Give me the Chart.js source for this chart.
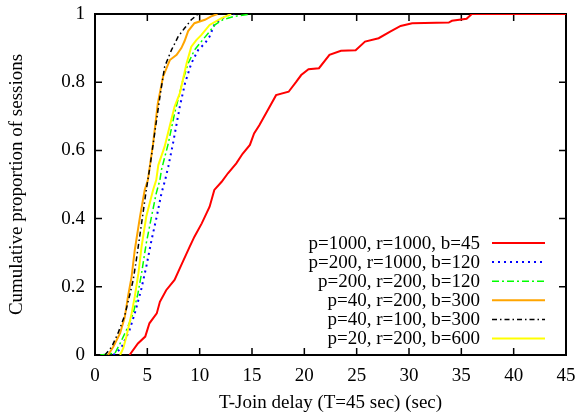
<!DOCTYPE html>
<html lang="en">
<head>
    <meta charset="UTF-8">
    <title>T-Join delay CDF</title>
    <script src="https://cdn.jsdelivr.net/npm/chart.js"></script>
    <style>
        body {
            margin: 0;
            background-color: #ffffff;
        }
        canvas {
            display: block;
        }
    </style>
</head>
<body>
    <canvas id="cdfChart" width="579" height="414"></canvas>

    <script>
        // Series: x = T-Join delay (sec), y = cumulative proportion
        const labels = [
            'p=1000, r=1000, b=45',
            'p=200, r=1000, b=120',
            'p=200, r=200, b=120',
            'p=40, r=200, b=300',
            'p=40, r=100, b=300',
            'p=20, r=200, b=600'
        ];

        const redX = [3.3, 4.1, 4.8, 5.2, 5.9, 6.2, 6.8, 7.6, 8.1, 9.05, 9.5, 10.2, 10.95, 11.4, 12.1, 12.7, 13.5, 14.1, 14.8, 15.2, 15.7, 16.5, 17.3, 18.5, 19.2, 19.7, 20.4, 21.4, 22.4, 23.5, 24.9, 25.8, 27.1, 28.2, 29.2, 30.3, 33.8, 34.1, 35.5, 36, 45];
        const redY = [0, 0.034, 0.054, 0.093, 0.122, 0.156, 0.19, 0.22, 0.254, 0.318, 0.347, 0.386, 0.435, 0.484, 0.508, 0.533, 0.562, 0.59, 0.616, 0.65, 0.674, 0.718, 0.762, 0.772, 0.80, 0.821, 0.838, 0.841, 0.88, 0.892, 0.894, 0.919, 0.929, 0.948, 0.965, 0.973, 0.975, 0.98, 0.986, 1, 1];

        const blueX = [1.75, 2.5, 3.3, 3.8, 4.4, 4.9, 5.4, 5.9, 6.35, 6.7, 7.0, 7.45, 8.1, 8.6, 9.2, 9.85, 10.5, 10.95, 11.4, 11.9, 12.7, 13.3];
        const blueY = [0, 0.02, 0.073, 0.122, 0.19, 0.259, 0.337, 0.406, 0.474, 0.513, 0.552, 0.62, 0.728, 0.797, 0.855, 0.894, 0.914, 0.934, 0.968, 0.983, 0.996, 1];

        const greenX = [0.5, 1.9, 2.4, 3.0, 3.65, 4.1, 4.45, 4.9, 5.4, 5.85, 6.2, 6.35, 7.0, 7.6, 8.4, 8.9, 9.5, 10.15, 10.8, 11.45, 12.2, 13.3, 14.9];
        const greenY = [0, 0.005, 0.034, 0.073, 0.122, 0.18, 0.24, 0.328, 0.406, 0.474, 0.513, 0.543, 0.62, 0.708, 0.806, 0.855, 0.894, 0.919, 0.943, 0.968, 0.983, 0.993, 1];

        const orangeX = [1.25, 1.75, 2.4, 2.85, 3.15, 3.5, 3.8, 4.3, 4.75, 5.05, 5.55, 6.0, 6.5, 7.15, 7.8, 8.25, 8.55, 8.9, 9.5, 10.5, 11.1, 11.7];
        const orangeY = [0, 0.024, 0.064, 0.112, 0.171, 0.23, 0.308, 0.406, 0.484, 0.513, 0.62, 0.738, 0.816, 0.865, 0.88, 0.9, 0.92, 0.95, 0.973, 0.983, 0.993, 1];

        const blackX = [0.95, 1.6, 2.2, 2.85, 3.35, 3.65, 3.95, 4.45, 4.9, 5.25, 5.7, 6.2, 6.65, 7.3, 7.95, 8.55, 9.2, 9.85];
        const blackY = [0, 0.024, 0.064, 0.117, 0.18, 0.22, 0.279, 0.386, 0.484, 0.552, 0.65, 0.757, 0.845, 0.894, 0.934, 0.958, 0.983, 1];

        const yellowX = [2.4, 2.7, 3.0, 3.5, 3.8, 4.15, 4.45, 4.9, 5.55, 5.85, 6.05, 6.65, 7.6, 8.1, 8.75, 9.2, 9.7, 10.15, 10.95, 12.05, 13.0];
        const yellowY = [0, 0.02, 0.054, 0.122, 0.171, 0.24, 0.318, 0.406, 0.484, 0.513, 0.557, 0.611, 0.728, 0.767, 0.855, 0.904, 0.924, 0.938, 0.968, 0.987, 1];

        const xTicks = [0, 5, 10, 15, 20, 25, 30, 35, 40, 45];
        const yTicks = [0, 0.2, 0.4, 0.6, 0.8, 1];

        const FONT = "'Liberation Serif', 'DejaVu Serif', serif";

        function toPoints(xs, ys) {
            return xs.map((x, i) => ({ x: x, y: ys[i] }));
        }

        const series = [
            { x: redX, y: redY, color: '#ff0000', dash: [], width: 2 },
            { x: blueX, y: blueY, color: '#0000ff', dash: [2, 4], width: 2 },
            { x: greenX, y: greenY, color: '#00ff00', dash: [7, 3, 2, 3], width: 1.5 },
            { x: orangeX, y: orangeY, color: '#ffa500', dash: [], width: 2 },
            { x: blackX, y: blackY, color: '#000000', dash: [5, 3, 1.5, 3], width: 1.5 },
            { x: yellowX, y: yellowY, color: '#ffff00', dash: [], width: 2 }
        ];

        const datasets = series.map((s, i) => ({
            label: labels[i],
            data: toPoints(s.x, s.y),
            borderColor: s.color,
            borderDash: s.dash,
            borderWidth: s.width,
            pointRadius: 0,
            fill: false,
            tension: 0,
            order: series.length - i // later series drawn on top
        }));

        // no extra room for overflowing tick labels, the layout padding fixes the plot box
        function noPad(scale) {
            scale.paddingLeft = 0;
            scale.paddingRight = 0;
            scale.paddingTop = 0;
            scale.paddingBottom = 0;
        }

        // gnuplot-like frame with inward ticks (under the curves), key drawn last
        const framePlugin = {
            id: 'framePlugin',
            beforeDatasetsDraw(chart) {
                const ctx = chart.ctx;
                const area = chart.chartArea;
                const xs = chart.scales.x;
                const ys = chart.scales.y;
                const tick = 7;

                ctx.save();
                ctx.strokeStyle = '#000000';
                ctx.lineWidth = 1.5;
                ctx.beginPath();
                xTicks.forEach(v => {
                    const px = xs.getPixelForValue(v);
                    ctx.moveTo(px, area.bottom);
                    ctx.lineTo(px, area.bottom - tick);
                    ctx.moveTo(px, area.top);
                    ctx.lineTo(px, area.top + tick);
                });
                yTicks.forEach(v => {
                    const py = ys.getPixelForValue(v);
                    ctx.moveTo(area.left, py);
                    ctx.lineTo(area.left + tick, py);
                    ctx.moveTo(area.right, py);
                    ctx.lineTo(area.right - tick, py);
                });
                ctx.stroke();
                ctx.lineWidth = 2;
                ctx.strokeRect(area.left, area.top, area.right - area.left, area.bottom - area.top);
                ctx.restore();
            },
            afterDraw(chart) {
                const ctx = chart.ctx;
                const area = chart.chartArea;

                ctx.save();
                ctx.font = '19px ' + FONT;
                ctx.textAlign = 'right';
                ctx.textBaseline = 'middle';
                chart.data.datasets.forEach((ds, i) => {
                    const y = area.bottom - 112 + i * 19.1;
                    ctx.fillStyle = '#000000';
                    ctx.fillText(ds.label, area.right - 86, y + 1);
                    ctx.strokeStyle = ds.borderColor;
                    ctx.lineWidth = ds.borderWidth;
                    ctx.setLineDash(ds.borderDash);
                    ctx.beginPath();
                    ctx.moveTo(area.right - 74, y);
                    ctx.lineTo(area.right - 21, y);
                    ctx.stroke();
                    ctx.setLineDash([]);
                });
                ctx.restore();
            }
        };

        new Chart(document.getElementById('cdfChart').getContext('2d'), {
            type: 'line',
            data: { datasets: datasets },
            options: {
                responsive: false,
                animation: false,
                layout: {
                    padding: { top: 14, right: 13, left: 0, bottom: 0 }
                },
                plugins: {
                    legend: { display: false },
                    tooltip: { enabled: false }
                },
                scales: {
                    x: {
                        type: 'linear',
                        min: 0,
                        max: 45,
                        afterFit: scale => { scale.height = 59; noPad(scale); },
                        afterBuildTicks: scale => { scale.ticks = xTicks.map(v => ({ value: v })); },
                        grid: { display: false, drawTicks: false },
                        border: { display: false },
                        ticks: {
                            padding: 10,
                            color: '#000000',
                            font: { family: FONT, size: 19 },
                            maxRotation: 0
                        },
                        title: {
                            display: true,
                            text: 'T-Join delay (T=45 sec) (sec)',
                            color: '#000000',
                            font: { family: FONT, size: 19 },
                            padding: { top: 0, bottom: 0 }
                        }
                    },
                    y: {
                        min: 0,
                        max: 1,
                        afterFit: scale => { scale.width = 95; noPad(scale); },
                        afterBuildTicks: scale => { scale.ticks = yTicks.map(v => ({ value: v })); },
                        grid: { display: false, drawTicks: false },
                        border: { display: false },
                        ticks: {
                            padding: 10,
                            color: '#000000',
                            font: { family: FONT, size: 19 },
                            callback: v => String(Math.round(v * 10) / 10)
                        },
                        title: {
                            display: true,
                            text: 'Cumulative proportion of sessions',
                            color: '#000000',
                            font: { family: FONT, size: 19 },
                            padding: { top: 6, bottom: 0 }
                        }
                    }
                }
            },
            plugins: [framePlugin]
        });
    </script>
</body>
</html>
